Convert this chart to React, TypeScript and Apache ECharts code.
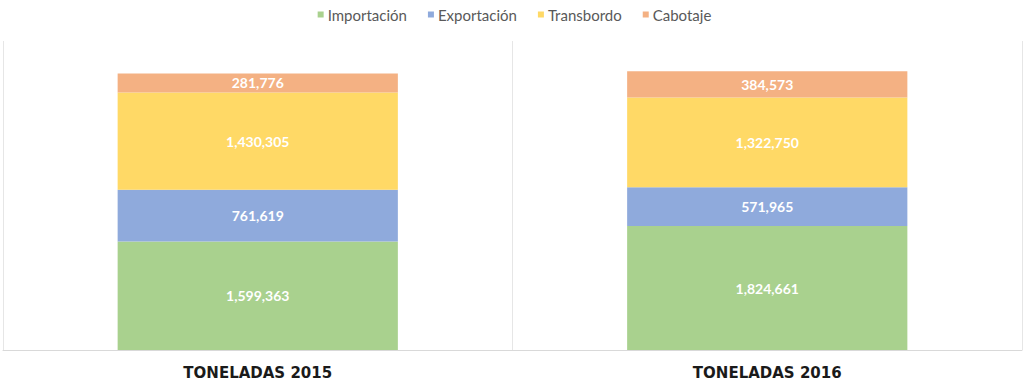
import React, { useEffect, useRef } from "react";
import * as echarts from "echarts";

const categories = ["TONELADAS 2015", "TONELADAS 2016"];
const seriesNames = ["Importación", "Exportación", "Transbordo", "Cabotaje"];
const importacion = [1599363, 1824661];
const exportacion = [761619, 571965];
const transbordo = [1430305, 1322750];
const cabotaje = [281776, 384573];
const colors = ["#A9D18E", "#8FAADC", "#FFD966", "#F4B183"];

const fmt = (v: number) => v.toLocaleString("en-US");

export default function App() {
  const ref = useRef<HTMLDivElement>(null);
  useEffect(() => {
    if (!ref.current) return;
    const chart = echarts.init(ref.current, null, { renderer: "svg" });
    const values = [importacion, exportacion, transbordo, cabotaje];
    chart.setOption({
      animation: false,
      color: colors,
      legend: {
        top: 7,
        left: "center",
        padding: 0,
        itemWidth: 6,
        itemHeight: 6,
        itemGap: 21,
        icon: "rect",
        textStyle: { color: "#595959", fontSize: 15, fontFamily: "Lato", padding: [0, 0, 0, -1] },
        data: seriesNames,
      },
      grid: { left: 3, right: 7, top: 41, bottom: 31, containLabel: false },
      xAxis: {
        type: "category",
        data: categories,
        axisLine: { show: true, lineStyle: { color: "#D9D9D9" } },
        axisTick: { show: false },
        splitLine: { show: true, lineStyle: { color: "#E6E6E6" } },
        axisLabel: {
          color: "#1a1a1a",
          fontWeight: "bold",
          fontSize: 15,
          fontFamily: "DejaVu Sans",
          margin: 15,
        },
      },
      yAxis: {
        type: "value",
        min: 0,
        max: 4550000,
        show: false,
        splitLine: { show: false },
      },
      series: seriesNames.map((name, i) => ({
        name,
        type: "bar",
        stack: "total",
        barWidth: "55%",
        data: values[i],
        label: {
          show: true,
          position: "inside",
          color: "#ffffff",
          fontWeight: "bold",
          fontSize: 14,
          fontFamily: "Lato",
          formatter: (p: any) => fmt(p.value),
        },
      })),
    });
    return () => chart.dispose();
  }, []);
  return (
    <div
      ref={ref}
      style={{ position: "absolute", left: 0, top: 0, width: 1029, height: 381 }}
    />
  );
}
